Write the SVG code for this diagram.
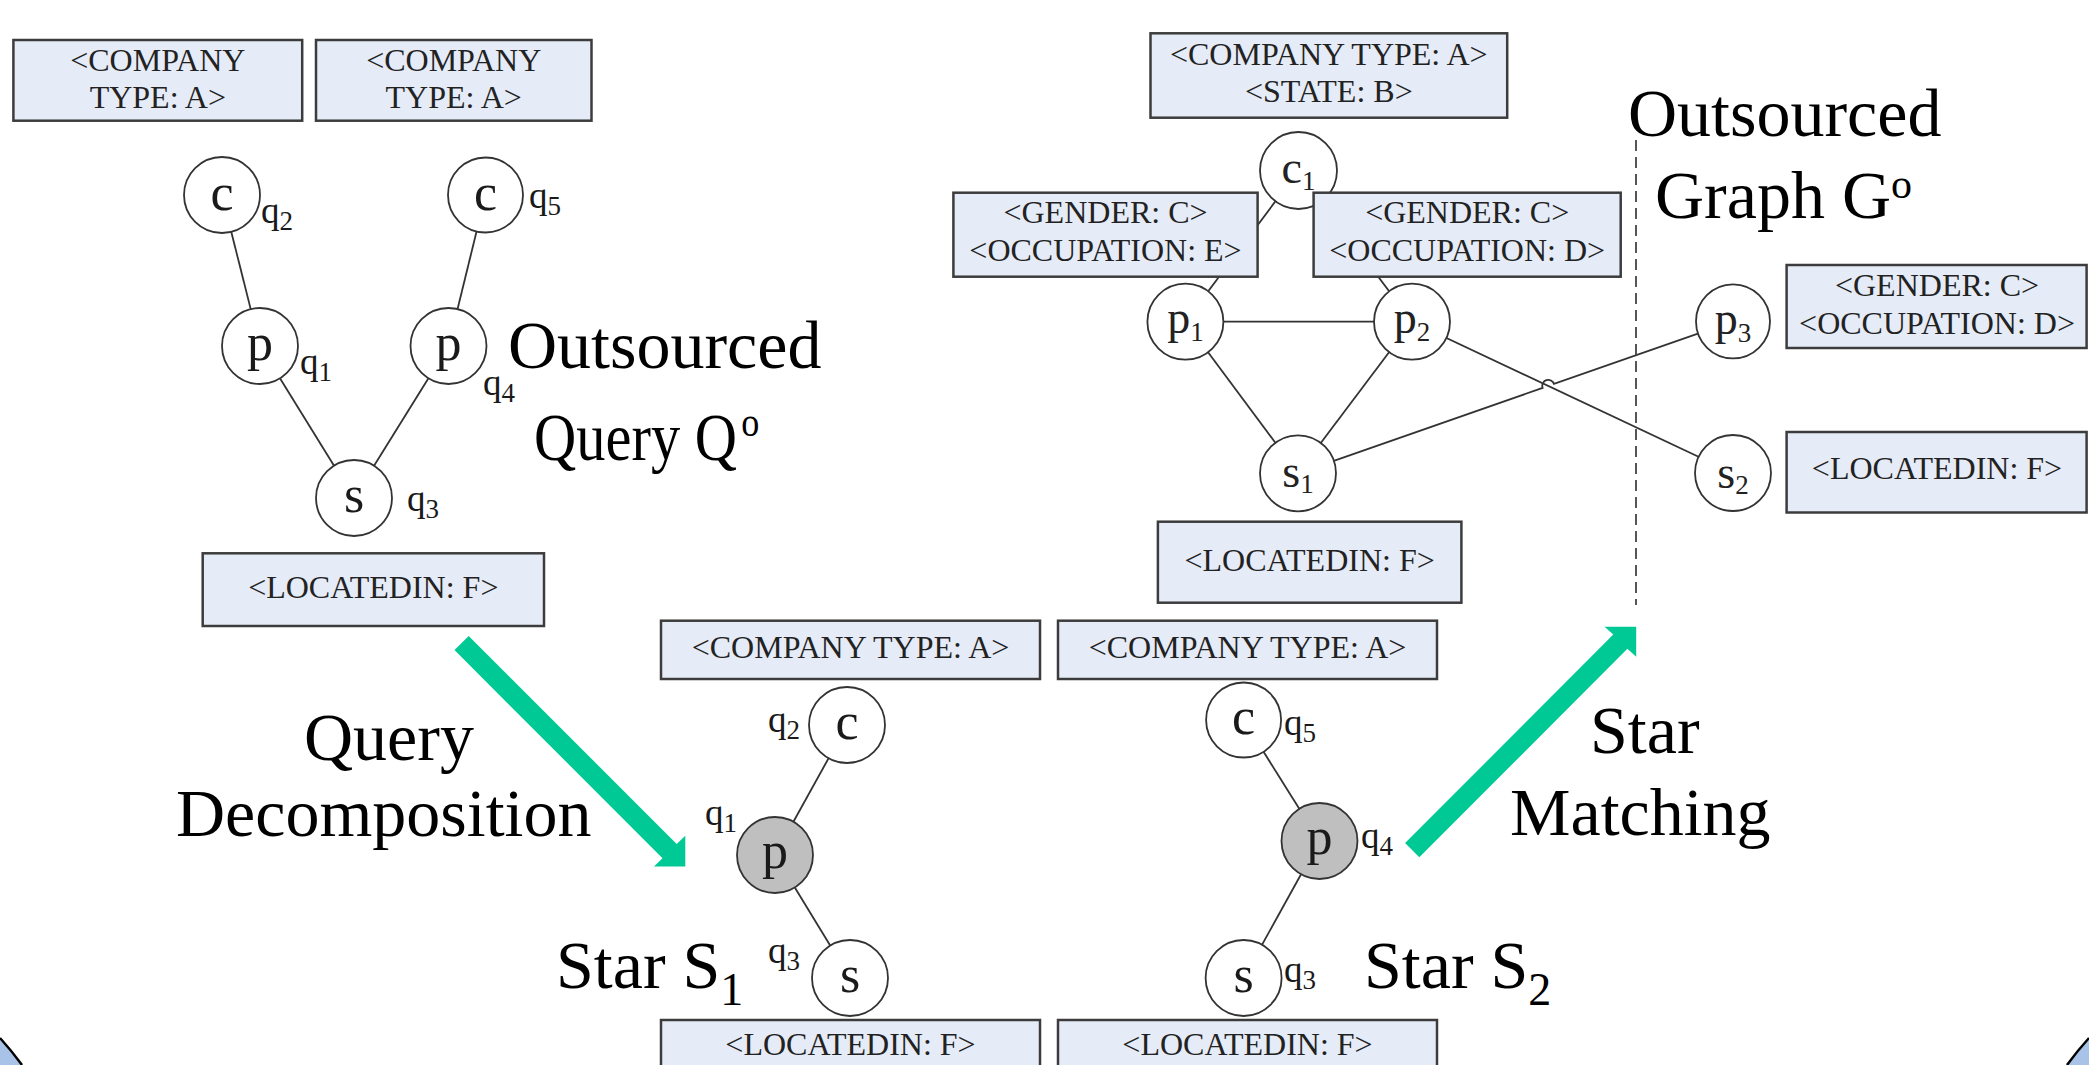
<svg xmlns="http://www.w3.org/2000/svg" width="2089" height="1065" viewBox="0 0 2089 1065">
<style>
.box{fill:#e5ebf7;stroke:#3c3c3c;stroke-width:2.5}
.bt{font-family:"Liberation Serif","Times New Roman",serif;font-size:32px;fill:#222;text-anchor:middle}
.nd{fill:#fff;stroke:#333;stroke-width:1.8}
.hl{fill:#bfbfbf}
.nl{font-family:"Liberation Serif","Times New Roman",serif;font-size:52px;fill:#1a1a1a;text-anchor:middle}
.gl{font-family:"Liberation Serif","Times New Roman",serif;font-size:46px;fill:#222;text-anchor:middle}
.ql{font-family:"Liberation Serif","Times New Roman",serif;font-size:37px;fill:#1a1a1a}
.sub{font-size:27px}
.big{font-family:"Liberation Serif","Times New Roman",serif;font-size:68px;fill:#000}
.bsub{font-size:46px}
.sup{font-size:42px}
.edge{stroke:#333;stroke-width:1.8;fill:none}
.flow{fill:#00c995}
.sep{stroke:#444;stroke-width:1.8;stroke-dasharray:11 6;fill:none}
.corner{fill:#a9c3e8}
.cornerline{fill:none;stroke:#000;stroke-width:2.5}
</style>

<!-- background corner pieces -->
<path class="corner" d="M0,1038 Q11,1050 22,1065 L0,1065 Z"/>
<path class="cornerline" d="M0,1038 Q11,1050 22,1065"/>
<path class="corner" d="M2089,1038 Q2078,1050 2067,1065 L2089,1065 Z"/>
<path class="cornerline" d="M2089,1038 Q2078,1050 2067,1065"/>

<!-- edges -->
<g id="connectors" class="edge">
  <!-- outsourced query -->
  <line x1="222" y1="195" x2="260" y2="346"/>
  <line x1="485.5" y1="195" x2="448.5" y2="346"/>
  <line x1="260" y1="346" x2="354" y2="498"/>
  <line x1="448.5" y1="346" x2="354" y2="498"/>
  <!-- star S1 -->
  <line x1="847" y1="725" x2="775" y2="855"/>
  <line x1="775" y1="855" x2="850" y2="978"/>
  <!-- star S2 -->
  <line x1="1243.6" y1="720" x2="1319.5" y2="841"/>
  <line x1="1319.5" y1="841" x2="1243.6" y2="978"/>
  <!-- outsourced graph -->
  <line x1="1298.5" y1="170.5" x2="1185.4" y2="321.7"/>
  <line x1="1298.5" y1="170.5" x2="1412" y2="321.7"/>
  <line x1="1185.4" y1="321.7" x2="1412" y2="321.7"/>
  <line x1="1185.4" y1="321.7" x2="1298" y2="473.3"/>
  <line x1="1412" y1="321.7" x2="1298" y2="473.3"/>
  <line x1="1412" y1="321.7" x2="1733" y2="473"/>
  <path d="M1298,473.3 L1542.6,387.9 A6,6 0 0 1 1554,383.9 L1733,321.4"/>
</g>

<!-- partition line -->
<line id="partition" class="sep" x1="1636" y1="140" x2="1636" y2="605"/>

<!-- process arrows -->
<g id="arrows">
  <polygon id="arrow-decompose" class="flow" points="468.7,635.9 676.7,844 685.3,835.7 685.3,866.5 654,866.5 662.5,858.2 454.5,650.1"/>
  <polygon id="arrow-match" class="flow" points="1405.1,843.1 1613.3,634.6 1604.5,626.7 1636.2,626.7 1636.2,656.7 1627.4,648.8 1419.3,857.3"/>
</g>

<!-- outsourced query nodes -->
<g id="qo-q2"><circle class="nd" cx="222" cy="195" r="38"/><text class="nl" x="222" y="210">c</text><text class="ql" x="261" y="223">q<tspan class="sub" dy="7">2</tspan></text></g>
<g id="qo-q5"><circle class="nd" cx="485.5" cy="195" r="37.5"/><text class="nl" x="485.5" y="210">c</text><text class="ql" x="529" y="208">q<tspan class="sub" dy="7">5</tspan></text></g>
<g id="qo-q1"><circle class="nd" cx="260" cy="346" r="38"/><text class="nl" x="260" y="360">p</text><text class="ql" x="300" y="374">q<tspan class="sub" dy="7">1</tspan></text></g>
<g id="qo-q4"><circle class="nd" cx="448.5" cy="346" r="38"/><text class="nl" x="448.5" y="360">p</text><text class="ql" x="483" y="395">q<tspan class="sub" dy="7">4</tspan></text></g>
<g id="qo-q3"><circle class="nd" cx="354" cy="498" r="38"/><text class="nl" x="354" y="512">s</text><text class="ql" x="407" y="511">q<tspan class="sub" dy="7">3</tspan></text></g>

<!-- star S1 nodes -->
<g id="s1-q2"><circle class="nd" cx="847" cy="725" r="38"/><text class="nl" x="847" y="739">c</text><text class="ql" x="768" y="732">q<tspan class="sub" dy="7">2</tspan></text></g>
<g id="s1-q1"><circle class="nd hl" cx="775" cy="855" r="38"/><text class="nl" x="775" y="868">p</text><text class="ql" x="705" y="825">q<tspan class="sub" dy="7">1</tspan></text></g>
<g id="s1-q3"><circle class="nd" cx="850" cy="978" r="38"/><text class="nl" x="850" y="992">s</text><text class="ql" x="768" y="963">q<tspan class="sub" dy="7">3</tspan></text></g>

<!-- star S2 nodes -->
<g id="s2-q5"><circle class="nd" cx="1243.6" cy="720" r="37.5"/><text class="nl" x="1243.6" y="734">c</text><text class="ql" x="1284" y="735">q<tspan class="sub" dy="7">5</tspan></text></g>
<g id="s2-q4"><circle class="nd hl" cx="1319.5" cy="841" r="38"/><text class="nl" x="1319.5" y="854">p</text><text class="ql" x="1361" y="848">q<tspan class="sub" dy="7">4</tspan></text></g>
<g id="s2-q3"><circle class="nd" cx="1243.6" cy="978" r="38"/><text class="nl" x="1243.6" y="992">s</text><text class="ql" x="1284" y="982">q<tspan class="sub" dy="7">3</tspan></text></g>

<!-- outsourced graph nodes -->
<g id="g-c1"><circle class="nd" cx="1298.5" cy="170.5" r="38.5"/><text class="gl" x="1298.5" y="183">c<tspan class="sub" dy="7">1</tspan></text></g>
<g id="g-p1"><circle class="nd" cx="1185.4" cy="321.7" r="38"/><text class="gl" x="1185.4" y="333">p<tspan class="sub" dy="8">1</tspan></text></g>
<g id="g-p2"><circle class="nd" cx="1412" cy="321.7" r="38"/><text class="gl" x="1412" y="333">p<tspan class="sub" dy="8">2</tspan></text></g>
<g id="g-s1"><circle class="nd" cx="1298" cy="473.3" r="38"/><text class="gl" x="1298" y="487">s<tspan class="sub" dy="6">1</tspan></text></g>
<g id="g-p3"><circle class="nd" cx="1733" cy="321.4" r="37"/><text class="gl" x="1733" y="334">p<tspan class="sub" dy="8">3</tspan></text></g>
<g id="g-s2"><circle class="nd" cx="1733" cy="473" r="38"/><text class="gl" x="1733" y="488">s<tspan class="sub" dy="6">2</tspan></text></g>

<!-- attribute boxes -->
<g id="attr-q2"><rect class="box" x="13.4" y="40" width="288.8" height="80.7"/><text class="bt" x="157.8" y="70.7">&lt;COMPANY</text><text class="bt" x="157.8" y="108.3">TYPE: A&gt;</text></g>
<g id="attr-q5"><rect class="box" x="316" y="40" width="275.5" height="80.7"/><text class="bt" x="453.7" y="70.7">&lt;COMPANY</text><text class="bt" x="453.7" y="108.3">TYPE: A&gt;</text></g>
<g id="attr-q3"><rect class="box" x="202.7" y="553.3" width="341.3" height="72.7"/><text class="bt" x="373.3" y="598.3">&lt;LOCATEDIN: F&gt;</text></g>

<g id="attr-s1-top"><rect class="box" x="661" y="620.7" width="379" height="58.3"/><text class="bt" x="850.5" y="658.3">&lt;COMPANY TYPE: A&gt;</text></g>
<g id="attr-s2-top"><rect class="box" x="1058" y="620.7" width="379" height="58.3"/><text class="bt" x="1247.5" y="658.3">&lt;COMPANY TYPE: A&gt;</text></g>
<g id="attr-s1-bottom"><rect class="box" x="661" y="1020" width="379" height="60"/><text class="bt" x="850.5" y="1055">&lt;LOCATEDIN: F&gt;</text></g>
<g id="attr-s2-bottom"><rect class="box" x="1058" y="1020" width="379" height="60"/><text class="bt" x="1247.5" y="1055">&lt;LOCATEDIN: F&gt;</text></g>

<g id="attr-c1"><rect class="box" x="1150.5" y="33.3" width="356.7" height="84.4"/><text class="bt" x="1328.8" y="65">&lt;COMPANY TYPE: A&gt;</text><text class="bt" x="1328.8" y="101.7">&lt;STATE: B&gt;</text></g>
<g id="attr-p1"><rect class="box" x="953.4" y="192.7" width="304.2" height="84"/><text class="bt" x="1105.5" y="222.7">&lt;GENDER: C&gt;</text><text class="bt" x="1105.5" y="260.7">&lt;OCCUPATION: E&gt;</text></g>
<g id="attr-p2"><rect class="box" x="1313.6" y="192.7" width="307.1" height="84"/><text class="bt" x="1467.2" y="222.7">&lt;GENDER: C&gt;</text><text class="bt" x="1467.2" y="260.7">&lt;OCCUPATION: D&gt;</text></g>
<g id="attr-s1"><rect class="box" x="1157.9" y="521.7" width="303.5" height="81"/><text class="bt" x="1309.6" y="570.7">&lt;LOCATEDIN: F&gt;</text></g>
<g id="attr-p3"><rect class="box" x="1786.6" y="265" width="300" height="83"/><text class="bt" x="1937" y="296.4">&lt;GENDER: C&gt;</text><text class="bt" x="1937" y="334">&lt;OCCUPATION: D&gt;</text></g>
<g id="attr-s2"><rect class="box" x="1786.6" y="432" width="300" height="80.5"/><text class="bt" x="1937" y="478.6">&lt;LOCATEDIN: F&gt;</text></g>

<!-- captions -->
<g id="captions">
  <text class="big" x="508" y="368">Outsourced</text>
  <text class="big" transform="translate(534,460) scale(0.86,1)">Query Q<tspan class="sup" dx="5" dy="-24">o</tspan></text>
  <text class="big" x="1628" y="136">Outsourced</text>
  <text class="big" x="1655" y="218">Graph G<tspan class="sup" dy="-20">o</tspan></text>
  <text class="big" x="304" y="760">Query</text>
  <text class="big" x="176" y="836">Decomposition</text>
  <text class="big" x="1590" y="753">Star</text>
  <text class="big" x="1510" y="835">Matching</text>
  <text class="big" x="556" y="988">Star S<tspan class="bsub" dy="17">1</tspan></text>
  <text class="big" x="1364" y="988">Star S<tspan class="bsub" dy="17">2</tspan></text>
</g>
</svg>
